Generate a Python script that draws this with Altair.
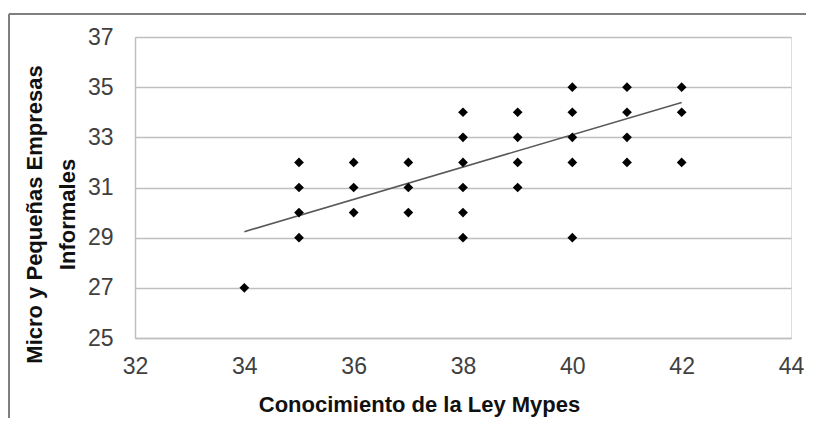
import altair as alt
import pandas as pd

# Scatter data
conocimiento = [34, 35, 35, 35, 35, 36, 36, 36, 37, 37, 37,
                38, 38, 38, 38, 38, 38, 39, 39, 39, 39,
                40, 40, 40, 40, 40, 41, 41, 41, 41, 42, 42, 42]
mypes = [27, 29, 30, 31, 32, 30, 31, 32, 30, 31, 32,
         29, 30, 31, 32, 33, 34, 31, 32, 33, 34,
         29, 32, 33, 34, 35, 32, 33, 34, 35, 32, 34, 35]

# Linear trend line end points (as drawn in the reference)
trend_x = [34, 42]
trend_y = [29.24, 34.39]

x_ticks = [32, 34, 36, 38, 40, 42, 44]
y_ticks = [25, 27, 29, 31, 33, 35, 37]

x_title = "Conocimiento de la Ley Mypes"
y_title = ["Micro y Pequeñas Empresas", "Informales"]

pts = pd.DataFrame({"x": conocimiento, "y": mypes})
trend = pd.DataFrame({"x": trend_x, "y": trend_y})

TITLE_FONT = "Liberation Sans, Arial, sans-serif"
LABEL_FONT = "Liberation Sans, Arial, sans-serif"

x_scale = alt.Scale(domain=[32, 44], nice=False, zero=False)
y_scale = alt.Scale(domain=[25, 37], nice=False, zero=False)

x_axis = alt.Axis(
    values=x_ticks, format="d", grid=False, ticks=False, tickSize=0,
    labelFlush=False, labelOverlap=False,
    labelFont=LABEL_FONT, labelFontSize=23, labelColor="#404040", labelPadding=17,
    domainColor="#bfbfbf", domainWidth=1.5,
    title=x_title, titleFont=TITLE_FONT, titleFontSize=22, titleFontWeight="bold",
    titleColor="#111111", titleX=284, titleY=73, titleAlign="center",
    titleBaseline="alphabetic",
)
y_axis = alt.Axis(
    values=y_ticks, format="d", grid=True, gridColor="#bfbfbf", gridWidth=1.5,
    ticks=False, tickSize=0, labelFlush=False, labelOverlap=False,
    labelFont=LABEL_FONT, labelFontSize=23, labelColor="#404040", labelPadding=22,
    domainColor="#bfbfbf", domainWidth=1.5,
    title=y_title, titleFont=TITLE_FONT, titleFontSize=22, titleFontWeight="bold",
    titleColor="#111111", titleX=-94, titleY=177, titleAlign="center",
    titleBaseline="alphabetic", titleLineHeight=33, titleAngle=270,
)

points = alt.Chart(pts).mark_point(
    shape="diamond", filled=True, size=95, color="black", opacity=1
).encode(
    x=alt.X("x:Q", scale=x_scale, axis=x_axis),
    y=alt.Y("y:Q", scale=y_scale, axis=y_axis),
)

line = alt.Chart(trend).mark_line(color="#595959", strokeWidth=1.6).encode(
    x=alt.X("x:Q", scale=x_scale),
    y=alt.Y("y:Q", scale=y_scale),
)

frame_data = pd.DataFrame({"a": [0]})
left_border = alt.Chart(frame_data).mark_rule(color="#7f7f7f", strokeWidth=2).encode(
    x=alt.value(-126), y=alt.value(-23), y2=alt.value(381)
)
top_border = alt.Chart(frame_data).mark_rule(color="#7f7f7f", strokeWidth=2).encode(
    x=alt.value(-126), x2=alt.value(700), y=alt.value(-23)
)

chart = alt.layer(line, points, left_border, top_border).properties(
    width=656, height=301,
    autosize=alt.AutoSizeParams(type="none"),
    padding={"left": 127, "top": 29, "right": 15, "bottom": 80},
).configure_view(strokeWidth=0).configure(background="white")

chart.save("out.html", embed_options={"renderer": "svg", "actions": False})
